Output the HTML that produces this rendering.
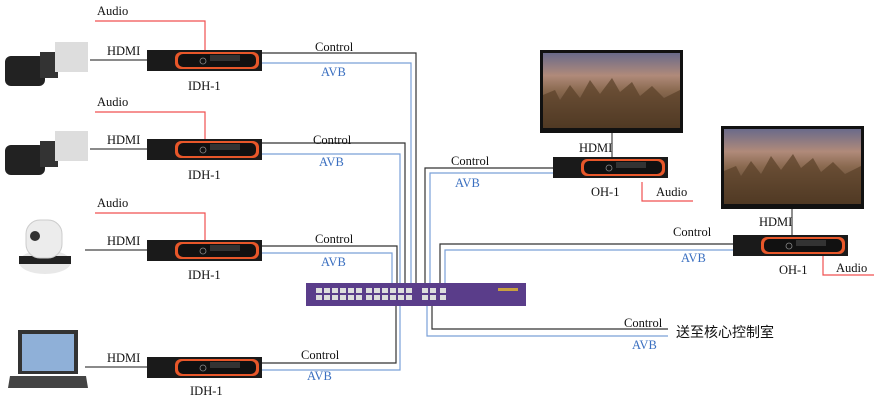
<!DOCTYPE html>
<html><head><meta charset="utf-8"><style>
html,body{margin:0;padding:0;background:#fff;}
svg{display:block;}
text{font-family:"Liberation Serif",serif;font-size:12.5px;fill:#111;font-weight:500;}
.b{fill:#3a6fc0;}
</style></head><body>
<svg width="879" height="404" viewBox="0 0 879 404" xmlns="http://www.w3.org/2000/svg">
<defs>
<linearGradient id="sky" x1="0" y1="0" x2="0" y2="1">
<stop offset="0" stop-color="#6a6a8a"/><stop offset="0.3" stop-color="#b08a7a"/><stop offset="0.5" stop-color="#8a6a50"/><stop offset="1" stop-color="#3a2a1a"/></linearGradient>
<g id="box">
<rect x="0" y="0" width="115" height="21" fill="#1a1a1a"/>
<rect x="28" y="2" width="84" height="17" rx="6" fill="#e8572a"/>
<rect x="31" y="4" width="78" height="13" rx="5" fill="#111"/>
<rect x="63" y="5" width="30" height="6" fill="#333"/>
<circle cx="56" cy="11" r="3" fill="none" stroke="#888" stroke-width="0.8"/>
</g>
<g id="tv">
<rect x="0" y="0" width="143" height="83" fill="#111"/>
<rect x="3" y="3" width="137" height="75" fill="url(#sky)"/>
<path d="M3 78V45L15 40L20 50L30 35L40 48L50 30L60 44L72 28L80 42L92 32L100 46L112 36L124 48L140 40V78Z" fill="#5a4028" opacity="0.7"/>
</g>
<g id="port2"><rect x="0" y="0" width="6" height="5" fill="#ddd"/><rect x="0" y="7" width="6" height="5" fill="#ddd"/></g>
</defs>
<g fill="none" stroke-width="1.2">
<g stroke="#f05050">
<path d="M95 21H205V50"/><path d="M95 112H205V139"/><path d="M95 213H205V240"/>
<path d="M642 182V201H693"/><path d="M823 256V275H874"/>
</g>
<g stroke="#444">
<path d="M90 60H147"/><path d="M90 149H147"/><path d="M85 250H147"/><path d="M85 367H147"/>
<path d="M612 133V157"/><path d="M792 208V235"/>
</g>
<g stroke="#333">
<path d="M262 53H416V283"/><path d="M262 143H405V283"/><path d="M262 246H397V283"/>
<path d="M262 363H396V306"/>
<path d="M553 168H425V283"/><path d="M733 244H440V283"/>
<path d="M668 329H432V306"/>
</g>
<g stroke="#7aa0d8">
<path d="M262 63H411V283"/><path d="M262 154H400V283"/><path d="M262 253H392V283"/>
<path d="M262 370H400V306"/>
<path d="M553 173H430V283"/><path d="M733 250H445V283"/>
<path d="M668 336H427V306"/>
</g>
</g>
<use href="#box" x="147" y="50"/><use href="#box" x="147" y="139"/>
<use href="#box" x="147" y="240"/><use href="#box" x="147" y="357"/>
<use href="#box" x="553" y="157"/><use href="#box" x="733" y="235"/>
<use href="#tv" x="540" y="50"/><use href="#tv" x="721" y="126"/>
<!-- switch -->
<rect x="306" y="283" width="220" height="23" fill="#5a3d8a"/>
<g>
<use href="#port2" x="316" y="288"/><use href="#port2" x="324" y="288"/><use href="#port2" x="332" y="288"/><use href="#port2" x="340" y="288"/><use href="#port2" x="348" y="288"/><use href="#port2" x="356" y="288"/>
<use href="#port2" x="366" y="288"/><use href="#port2" x="374" y="288"/><use href="#port2" x="382" y="288"/><use href="#port2" x="390" y="288"/><use href="#port2" x="398" y="288"/><use href="#port2" x="406" y="288"/>
<use href="#port2" x="422" y="288"/><use href="#port2" x="430" y="288"/><use href="#port2" x="440" y="288"/>
</g>
<rect x="498" y="288" width="20" height="3" fill="#c8a040"/>
<!-- cameras -->
<rect x="5" y="56" width="40" height="30" rx="6" fill="#222"/>
<rect x="40" y="52" width="18" height="26" fill="#333"/>
<rect x="55" y="42" width="33" height="30" fill="#ddd"/>
<rect x="5" y="145" width="40" height="30" rx="6" fill="#222"/>
<rect x="40" y="141" width="18" height="26" fill="#333"/>
<rect x="55" y="131" width="33" height="30" fill="#ddd"/>
<ellipse cx="45" cy="262" rx="26" ry="12" fill="#e8e8e8"/>
<rect x="19" y="256" width="52" height="8" fill="#222"/>
<rect x="26" y="220" width="36" height="38" rx="14" fill="#ececec" stroke="#ccc"/>
<circle cx="35" cy="236" r="5" fill="#333"/>
<rect x="18" y="330" width="60" height="44" fill="#333"/>
<rect x="22" y="334" width="52" height="37" fill="#8fb0d8"/>
<path d="M10 376H86L88 388H8Z" fill="#444"/>
<text x="97" y="15">Audio</text><text x="97" y="106">Audio</text><text x="97" y="207">Audio</text>
<text x="107" y="55">HDMI</text><text x="107" y="144">HDMI</text><text x="107" y="245">HDMI</text><text x="107" y="362">HDMI</text>
<text x="188" y="90" font-size="13">IDH-1</text><text x="188" y="179" font-size="13">IDH-1</text>
<text x="188" y="279" font-size="13">IDH-1</text><text x="190" y="395" font-size="13">IDH-1</text>
<text x="315" y="51">Control</text><text x="313" y="144">Control</text><text x="315" y="243">Control</text><text x="301" y="359">Control</text>
<text class="b" x="321" y="76">AVB</text><text class="b" x="319" y="166">AVB</text><text class="b" x="321" y="266">AVB</text><text class="b" x="307" y="380">AVB</text>
<text x="451" y="165">Control</text><text class="b" x="455" y="187">AVB</text>
<text x="579" y="152">HDMI</text><text x="591" y="196" font-size="13">OH-1</text><text x="656" y="196">Audio</text>
<text x="673" y="236">Control</text><text class="b" x="681" y="262">AVB</text>
<text x="759" y="226">HDMI</text><text x="779" y="274" font-size="13">OH-1</text><text x="836" y="272">Audio</text>
<text x="624" y="327">Control</text><text class="b" x="632" y="349">AVB</text>
<text x="676" y="337" style="font-family:'Liberation Sans','Noto Sans CJK SC',sans-serif;font-size:14px;font-weight:normal">送至核心控制室</text>
</svg>
</body></html>
